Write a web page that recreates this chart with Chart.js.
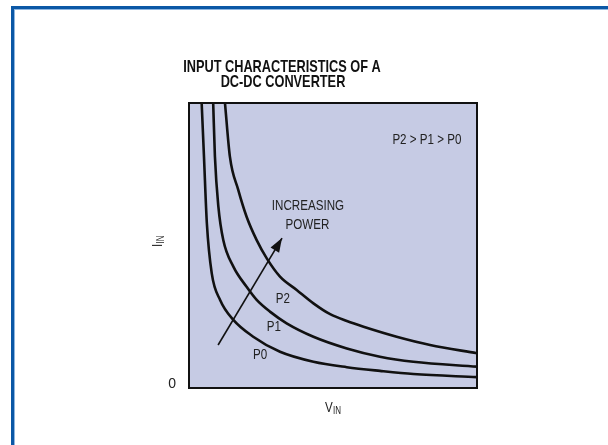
<!DOCTYPE html>
<html>
<head>
<meta charset="utf-8">
<script src="https://cdn.jsdelivr.net/npm/chart.js@4.4.1/dist/chart.umd.min.js"></script>
<style>
    body { margin: 0; background: #ffffff; overflow: hidden; }
    #frame {
        position: absolute; left: 11px; top: 6px; width: 700px; height: 600px;
        border-left: 3px solid #0b58a6; border-top: 3px solid #0b58a6;
        box-shadow: inset 1px 1px 0 #8fb6e0;
    }
    #wrap { position: absolute; left: 0; top: 0; width: 608px; height: 445px; }
</style>
</head>
<body>
<div id="frame"></div>
<div id="wrap"><canvas id="chart" width="608" height="445"></canvas></div>
<script>
// Curve data (arbitrary units, 0..100 on both axes)
const p0X = [4.4, 5.2, 6.2, 7.9, 10.8, 15.4, 22.3, 31.6, 43.2, 54.8, 66.3, 77.9, 100];
const p0Y = [99.9, 81.2, 57.8, 40.2, 30.9, 23.9, 18.0, 12.7, 9.2, 7.3, 6.0, 4.9, 3.8];

const p1X = [8.4, 9.0, 10.2, 11.9, 15.4, 20.0, 23.5, 28.1, 33.9, 43.2, 54.8, 66.3, 77.9, 100];
const p1Y = [99.9, 81.2, 63.6, 51.9, 42.6, 35.5, 30.9, 26.8, 22.7, 18.0, 13.9, 11.0, 9.2, 7.5];

const p2X = [12.5, 14.2, 17.1, 20.0, 23.5, 27.0, 31.6, 37.4, 43.2, 49.0, 54.8, 60.6, 72.1, 83.7, 100];
const p2Y = [99.9, 81.2, 69.5, 60.1, 51.9, 45.5, 39.1, 34.4, 29.7, 25.9, 23.5, 21.5, 18.0, 15.1, 12.2];

const arrowX = [10.1, 32.3];
const arrowY = [15.1, 52.6];

const curveLabels = ['P0', 'P1', 'P2'];
const curveLabelX = [24.7, 29.5, 32.6];
const curveLabelY = [11.6, 21.4, 31.2];

const titleLines = ['INPUT CHARACTERISTICS OF A', 'DC-DC CONVERTER'];
const noteText = 'P2 > P1 > P0';
const arrowText = ['INCREASING', 'POWER'];
const yTicks = [0];

const sans = "'Liberation Sans', Arial, sans-serif";

function toPoints(xs, ys) {
    return xs.map((x, i) => ({ x: x, y: ys[i] }));
}

function curve(xs, ys) {
    return {
        data: toPoints(xs, ys),
        showLine: true,
        borderColor: '#111111',
        borderWidth: 2.6,
        pointRadius: 0,
        cubicInterpolationMode: 'monotone',
        fill: false
    };
}

// condensed look: squeeze normal glyphs horizontally
function narrowText(ctx, text, x, y, font, squeeze) {
    ctx.save();
    ctx.font = font;
    ctx.translate(x, y);
    ctx.scale(squeeze, 1);
    ctx.fillText(text, 0, 0);
    ctx.restore();
}

// background, frame, title and annotations
const decorations = {
    id: 'decorations',
    beforeDatasetsDraw(chart) {
        const { ctx, chartArea: a } = chart;
        ctx.save();
        ctx.fillStyle = '#c6cbe4';
        ctx.fillRect(a.left, a.top, a.right - a.left, a.bottom - a.top);
        ctx.restore();
    },
    afterDatasetsDraw(chart) {
        const { ctx, chartArea: a, scales } = chart;
        const sx = scales.x, sy = scales.y;
        ctx.save();

        // plot border
        ctx.strokeStyle = '#111111';
        ctx.lineWidth = 2;
        ctx.strokeRect(a.left, a.top, a.right - a.left, a.bottom - a.top);

        // arrow head
        const x0 = sx.getPixelForValue(arrowX[0]), y0 = sy.getPixelForValue(arrowY[0]);
        const x1 = sx.getPixelForValue(arrowX[1]), y1 = sy.getPixelForValue(arrowY[1]);
        const ang = Math.atan2(y1 - y0, x1 - x0);
        const len = 14, half = 5;
        ctx.fillStyle = '#111111';
        ctx.beginPath();
        ctx.moveTo(x1, y1);
        ctx.lineTo(x1 - len * Math.cos(ang) + half * Math.sin(ang), y1 - len * Math.sin(ang) - half * Math.cos(ang));
        ctx.lineTo(x1 - len * Math.cos(ang) - half * Math.sin(ang), y1 - len * Math.sin(ang) + half * Math.cos(ang));
        ctx.closePath();
        ctx.fill();

        // title
        ctx.fillStyle = '#111111';
        ctx.textAlign = 'center';
        ctx.textBaseline = 'middle';
        narrowText(ctx, titleLines[0], 282, 67, 'bold 17px ' + sans, 0.75);
        narrowText(ctx, titleLines[1], 283, 82, 'bold 17px ' + sans, 0.75);

        // text inside plot
        ctx.fillStyle = '#222222';
        const f14 = '14.5px ' + sans;
        narrowText(ctx, noteText, sx.getPixelForValue(82.6), sy.getPixelForValue(87.0), f14, 0.8);
        narrowText(ctx, arrowText[0], sx.getPixelForValue(41.3), sy.getPixelForValue(63.9), f14, 0.8);
        narrowText(ctx, arrowText[1], sx.getPixelForValue(41.1), sy.getPixelForValue(57.2), f14, 0.8);
        curveLabels.forEach((t, i) => {
            narrowText(ctx, t, sx.getPixelForValue(curveLabelX[i]), sy.getPixelForValue(curveLabelY[i]), f14, 0.8);
        });

        // x axis title V_IN
        ctx.textAlign = 'left';
        ctx.textBaseline = 'alphabetic';
        const vx = 325, vy = 412;
        narrowText(ctx, 'V', vx, vy, '14.5px ' + sans, 0.8);
        narrowText(ctx, 'IN', vx + 8, vy + 2, '10px ' + sans, 0.8);

        // y axis title I_IN (rotated)
        ctx.translate(162, 247);
        ctx.rotate(-Math.PI / 2);
        narrowText(ctx, 'I', 0, 0, '14.5px ' + sans, 0.8);
        narrowText(ctx, 'IN', 3.5, 2, '10px ' + sans, 0.8);

        ctx.restore();
    }
};

new Chart(document.getElementById('chart').getContext('2d'), {
    type: 'scatter',
    data: {
        datasets: [
            curve(p0X, p0Y),
            curve(p1X, p1Y),
            curve(p2X, p2Y),
            {
                data: toPoints(arrowX, arrowY),
                showLine: true,
                borderColor: '#111111',
                borderWidth: 1.6,
                pointRadius: 0,
                tension: 0
            }
        ]
    },
    options: {
        responsive: false,
        animation: false,
        events: [],
        layout: { padding: { left: 0, top: 103, right: 131, bottom: 57 } },
        plugins: {
            legend: { display: false },
            tooltip: { enabled: false },
            title: { display: false }
        },
        scales: {
            x: {
                type: 'linear',
                min: 0,
                max: 100,
                display: false
            },
            y: {
                type: 'linear',
                min: 0,
                max: 100,
                afterFit(scale) { scale.width = 189; },
                afterBuildTicks(scale) { scale.ticks = yTicks.map(v => ({ value: v })); },
                grid: { display: false, drawTicks: false },
                border: { display: false },
                ticks: {
                    color: '#222222',
                    padding: 13,
                    labelOffset: -4,
                    font: { family: sans, size: 14 },
                    callback: v => String(v)
                }
            }
        }
    },
    plugins: [decorations]
});
</script>
</body>
</html>
